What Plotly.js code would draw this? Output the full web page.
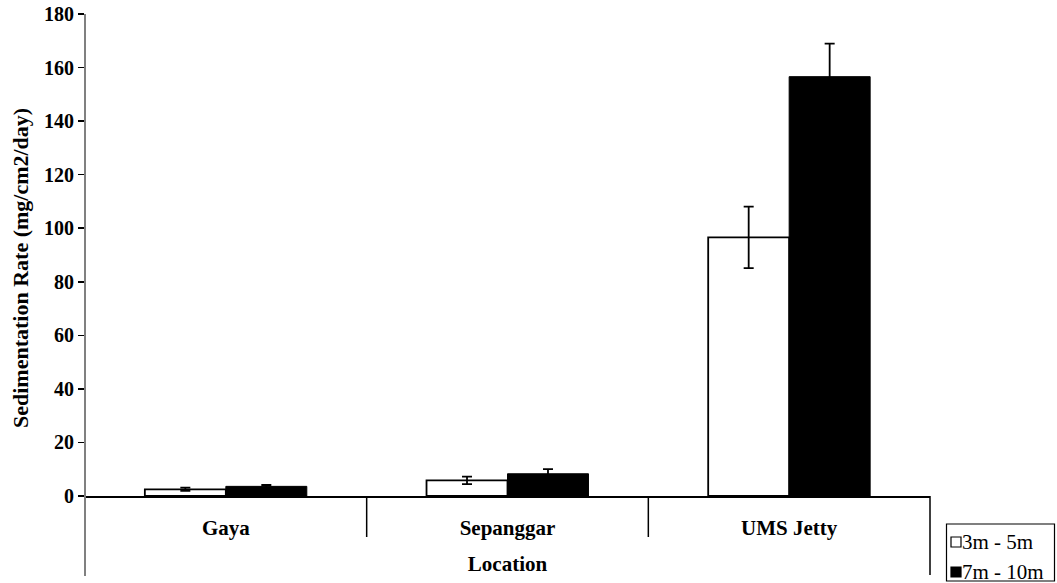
<!DOCTYPE html>
<html>
<head>
<meta charset="utf-8">
<script src="https://cdn.plot.ly/plotly-3.0.1.min.js"></script>
<style>html,body{margin:0;padding:0;background:#fff;}#chart{width:1057px;height:583px;}</style>
</head>
<body>
<div id="chart"></div>
<script>
var categories = ["Gaya", "Sepanggar", "UMS Jetty"];
var seriesNames = ["3m - 5m", "7m - 10m"];
var shallowValues = [2.5, 5.8, 96.6];
var shallowErrors = [0.6, 1.4, 11.5];
var deepValues = [3.6, 8.3, 156.6];
var deepErrors = [0.5, 1.7, 12.3];
var yTickValues = [0, 20, 40, 60, 80, 100, 120, 140, 160, 180];
var xTitle = "Location";
var yTitle = "Sedimentation Rate (mg/cm2/day)";

var serif = "Liberation Serif";
var W = 1057, H = 583;
var L = 85, R = 930, T = 14, B = 496;
var pw = R - L, ph = B - T;
function px(x) { return (x - L) / pw; }
function py(y) { return (B - y) / ph; }

var traces = [
  {
    type: "bar", name: seriesNames[0], x: categories, y: shallowValues,
    marker: {color: "#ffffff", line: {color: "#000000", width: 1.8}},
    error_y: {type: "data", array: shallowErrors, visible: true, color: "#000000", thickness: 1.8, width: 5},
    showlegend: false
  },
  {
    type: "bar", name: seriesNames[1], x: categories, y: deepValues,
    marker: {color: "#000000", line: {color: "#000000", width: 1}},
    error_y: {type: "data", array: deepErrors, visible: true, color: "#000000", thickness: 1.8, width: 5},
    showlegend: false
  }
];

var shapes = [
  {type: "line", xref: "paper", yref: "paper", x0: 0, x1: 0, y0: py(576), y1: 1, line: {color: "#808080", width: 2}},
  {type: "line", xref: "paper", yref: "paper", x0: 1, x1: 1, y0: py(575), y1: 0, line: {color: "#000000", width: 1.5}},
  {type: "line", xref: "x", yref: "paper", x0: 0.5, x1: 0.5, y0: py(537), y1: 0, line: {color: "#000000", width: 1.5}},
  {type: "line", xref: "x", yref: "paper", x0: 1.5, x1: 1.5, y0: py(537), y1: 0, line: {color: "#000000", width: 1.5}},
  {type: "rect", xref: "paper", yref: "paper", x0: px(946.5), x1: px(1054.5), y0: py(581), y1: py(524), line: {color: "#000000", width: 1.2}, fillcolor: "#ffffff"},
  {type: "rect", xref: "paper", yref: "paper", x0: px(951), x1: px(961), y0: py(547), y1: py(537), line: {color: "#000000", width: 1.2}, fillcolor: "#ffffff"},
  {type: "rect", xref: "paper", yref: "paper", x0: px(951), x1: px(961), y0: py(577), y1: py(567), line: {color: "#000000", width: 1.2}, fillcolor: "#000000"}
];

var annotations = [
  {xref: "paper", yref: "paper", x: px(961), y: py(542), xanchor: "left", yanchor: "middle", text: seriesNames[0], showarrow: false, borderpad: 0, font: {family: serif, size: 21, color: "#000"}},
  {xref: "paper", yref: "paper", x: px(961), y: py(572), xanchor: "left", yanchor: "middle", text: seriesNames[1], showarrow: false, borderpad: 0, font: {family: serif, size: 21, color: "#000"}},
  {xref: "paper", yref: "paper", x: px(20), y: py(268), xanchor: "center", yanchor: "middle", textangle: -90, text: yTitle, showarrow: false, font: {family: serif, size: 22, color: "#000", weight: "bold"}}
];

var layout = {
  width: W, height: H,
  margin: {l: L, r: W - R, t: T, b: H - B, pad: 0},
  paper_bgcolor: "#ffffff", plot_bgcolor: "#ffffff",
  barmode: "group", bargap: 0.425, bargroupgap: 0,
  showlegend: false,
  font: {family: serif, size: 20, color: "#000"},
  xaxis: {
    type: "category", range: [-0.5, 2.5],
    showline: true, linecolor: "#000000", linewidth: 1.5,
    ticks: "", showgrid: false, zeroline: false,
    ticklabelstandoff: 12,
    tickfont: {family: serif, size: 21, color: "#000", weight: "bold"},
    title: {text: xTitle, font: {family: serif, size: 21, color: "#000", weight: "bold"}, standoff: 17},
    fixedrange: true
  },
  yaxis: {
    range: [0, 180], tickvals: yTickValues, ticktext: yTickValues.map(String),
    showline: false, ticks: "outside", ticklen: 6, tickwidth: 1.5, tickcolor: "#000",
    showgrid: false, zeroline: false,
    tickfont: {family: serif, size: 20, color: "#000", weight: "bold"},
    fixedrange: true
  },
  shapes: shapes,
  annotations: annotations
};

Plotly.newPlot("chart", traces, layout, {displayModeBar: false, staticPlot: true});
</script>
</body>
</html>
